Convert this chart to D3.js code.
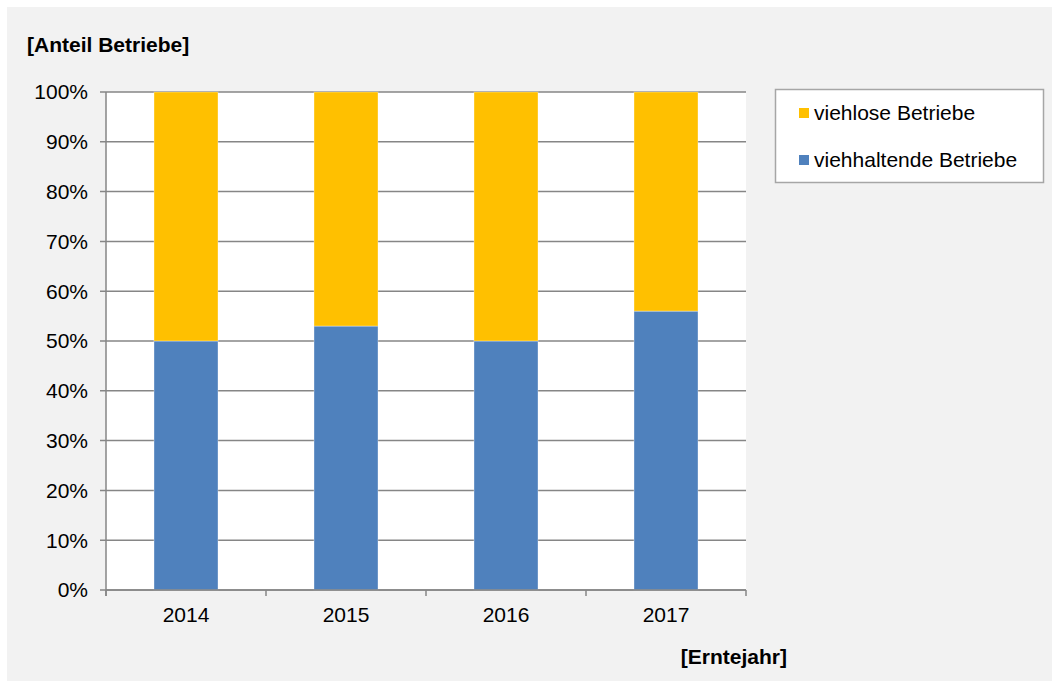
<!DOCTYPE html>
<html>
<head>
<meta charset="utf-8">
<script src="https://cdn.jsdelivr.net/npm/d3@7"></script>
<style>
  body { margin: 0; background: #fff; }
  svg { display: block; font-family: "Liberation Sans", Arial, sans-serif; }
</style>
</head>
<body>
<svg id="chart"></svg>
<script>
// data
const years = ["2014", "2015", "2016", "2017"];
const viehhaltend = [50, 53, 50, 56];
const viehlos = [50, 47, 50, 44];
const seriesNames = ["viehlose Betriebe", "viehhaltende Betriebe"];
const seriesColors = ["#FFC000", "#4F81BD"];
const yTicks = [0, 10, 20, 30, 40, 50, 60, 70, 80, 90, 100];

const width = 1052, height = 681;
const margin = { top: 92, right: 306, bottom: 91, left: 106 };
const fontSize = 21;

const svg = d3.select("#chart")
    .attr("width", width)
    .attr("height", height);

// chart background
svg.append("rect")
    .attr("x", 7).attr("y", 7)
    .attr("width", width - 7).attr("height", height - 7)
    .attr("fill", "#f2f2f2");

const plotW = width - margin.left - margin.right;
const plotH = height - margin.top - margin.bottom;

const x = d3.scaleBand()
    .domain(years)
    .range([margin.left, margin.left + plotW])
    .paddingInner(0.6)
    .paddingOuter(0.3);

const y = d3.scaleLinear()
    .domain([0, 100])
    .range([margin.top + plotH, margin.top]);

// plot area
svg.append("rect")
    .attr("x", margin.left).attr("y", margin.top)
    .attr("width", plotW).attr("height", plotH)
    .attr("fill", "#fff");

// gridlines
svg.append("g")
    .selectAll("line")
    .data(yTicks)
    .enter()
    .append("line")
    .attr("x1", margin.left - 6)
    .attr("x2", margin.left + plotW)
    .attr("y1", d => y(d))
    .attr("y2", d => y(d))
    .attr("stroke", "#868686")
    .attr("stroke-width", 1.5);

// stacked bars
const rows = years.map((yr, i) => ({ year: yr, viehhaltend: viehhaltend[i], viehlos: viehlos[i] }));
const stack = d3.stack().keys(["viehhaltend", "viehlos"]);
const layers = stack(rows);
const layerColor = { viehhaltend: seriesColors[1], viehlos: seriesColors[0] };

svg.append("g")
    .selectAll("g")
    .data(layers)
    .enter()
    .append("g")
    .attr("fill", d => layerColor[d.key])
    .selectAll("rect")
    .data(d => d)
    .enter()
    .append("rect")
    .attr("x", d => x(d.data.year))
    .attr("y", d => y(d[1]))
    .attr("width", x.bandwidth())
    .attr("height", d => y(d[0]) - y(d[1]))
    .attr("stroke", "rgba(255,255,255,0.35)")
    .attr("stroke-width", 1);

// y axis line
svg.append("line")
    .attr("x1", margin.left).attr("x2", margin.left)
    .attr("y1", margin.top).attr("y2", margin.top + plotH + 6)
    .attr("stroke", "#868686").attr("stroke-width", 1.5);

// x axis line with ticks between categories
svg.append("line")
    .attr("x1", margin.left).attr("x2", margin.left + plotW)
    .attr("y1", y(0)).attr("y2", y(0))
    .attr("stroke", "#868686").attr("stroke-width", 1.5);

const step = x.step();
svg.append("g")
    .selectAll("line")
    .data(d3.range(years.length + 1))
    .enter()
    .append("line")
    .attr("x1", i => margin.left + i * step)
    .attr("x2", i => margin.left + i * step)
    .attr("y1", y(0))
    .attr("y2", y(0) + 6)
    .attr("stroke", "#868686").attr("stroke-width", 1.5);

// y tick labels
svg.append("g")
    .selectAll("text")
    .data(yTicks)
    .enter()
    .append("text")
    .attr("x", 88)
    .attr("y", d => y(d))
    .attr("dy", "0.35em")
    .attr("text-anchor", "end")
    .attr("font-size", fontSize)
    .attr("fill", "#000")
    .text(d => d + "%");

// x tick labels
svg.append("g")
    .selectAll("text")
    .data(years)
    .enter()
    .append("text")
    .attr("x", d => x(d) + x.bandwidth() / 2)
    .attr("y", 622)
    .attr("text-anchor", "middle")
    .attr("font-size", fontSize)
    .attr("fill", "#000")
    .text(d => d);

// axis titles
svg.append("text")
    .attr("x", 27).attr("y", 52)
    .attr("font-size", fontSize).attr("font-weight", "bold")
    .text("[Anteil Betriebe]");

svg.append("text")
    .attr("x", 787).attr("y", 664)
    .attr("text-anchor", "end")
    .attr("font-size", fontSize).attr("font-weight", "bold")
    .text("[Erntejahr]");

// legend
const legend = svg.append("g");
legend.append("rect")
    .attr("x", 775.5).attr("y", 89.5)
    .attr("width", 268).attr("height", 93)
    .attr("fill", "#fff")
    .attr("stroke", "#a6a6a6").attr("stroke-width", 1.5);

const items = legend.selectAll("g")
    .data(seriesNames)
    .enter()
    .append("g")
    .attr("transform", (d, i) => "translate(0," + (i * 47) + ")");

items.append("rect")
    .attr("x", 799).attr("y", 108)
    .attr("width", 10).attr("height", 10)
    .attr("fill", (d, i) => seriesColors[i]);

items.append("text")
    .attr("x", 814).attr("y", 120)
    .attr("font-size", fontSize)
    .attr("fill", "#000")
    .text(d => d);
</script>
</body>
</html>
